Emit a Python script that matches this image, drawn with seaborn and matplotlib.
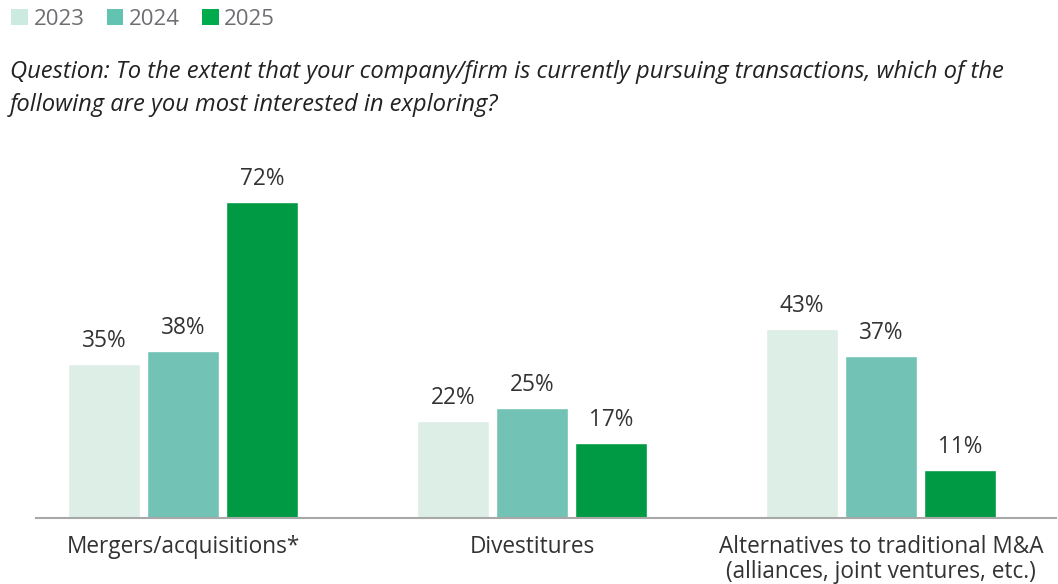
import matplotlib
matplotlib.use("Agg")
import matplotlib.pyplot as plt
from matplotlib.patches import Patch
import seaborn as sns
import pandas as pd

categories = [
    "Mergers/acquisitions*",
    "Divestitures",
    "Alternatives to traditional M&A\n(alliances, joint ventures, etc.)",
]
years = ["2023", "2024", "2025"]
values_2023 = [35, 22, 43]
values_2024 = [38, 25, 37]
values_2025 = [72, 17, 11]

bar_colors = ["#DDEEE7", "#72C3B5", "#009A44"]
legend_colors = ["#CDEAE0", "#62C3B0", "#00AB4E"]

question = ("Question: To the extent that your company/firm is currently pursuing transactions, which of the\n"
            "following are you most interested in exploring?")

df = pd.DataFrame({
    "category": categories * 3,
    "year": [y for y in years for _ in categories],
    "value": values_2023 + values_2024 + values_2025,
})

sns.set_theme(style="white")
plt.rcParams["font.family"] = ["Open Sans", "DejaVu Sans"]

W, H = 1058, 584
fig = plt.figure(figsize=(W / 100, H / 100), dpi=100)
ax = fig.add_axes([36 / W, (H - 518) / H, 1020 / W, 351 / H])

sns.barplot(data=df, x="category", y="value", hue="year", order=categories,
            hue_order=years, palette=bar_colors, width=0.679, gap=0.09,
            saturation=1, legend=False, ax=ax)

for container in ax.containers:
    ax.bar_label(container, fmt="%d%%", padding=8, fontsize=16.3, color="#333333")

ax.set_xlim(-0.421, 2.501)
ax.set_ylim(0, 80)
ax.set_xlabel("")
ax.set_ylabel("")
ax.set_yticks([])
ax.tick_params(axis="x", length=0, pad=12, labelsize=16.3, labelcolor="#333333")
for lbl in ax.get_xticklabels():
    lbl.set_linespacing(1.05)
for side in ["top", "left", "right"]:
    ax.spines[side].set_visible(False)
ax.spines["bottom"].set_color("#A8A8A8")
ax.spines["bottom"].set_linewidth(1.5)

handles = [Patch(facecolor=c, edgecolor="none", label=y) for c, y in zip(legend_colors, years)]
fig.legend(handles=handles, loc="upper left", bbox_to_anchor=(-0.004, 1.012), ncol=3,
           frameon=False, fontsize=16, labelcolor="#6D6E71", handlelength=0.75,
           handleheight=0.75, handletextpad=0.25, columnspacing=1.0, borderaxespad=0.3)

fig.text(10 / W, 1 - 60 / H, question, ha="left", va="top", fontsize=17.1,
         style="italic", color="#222222", linespacing=1.48)

fig.savefig("out.png", dpi=100)
